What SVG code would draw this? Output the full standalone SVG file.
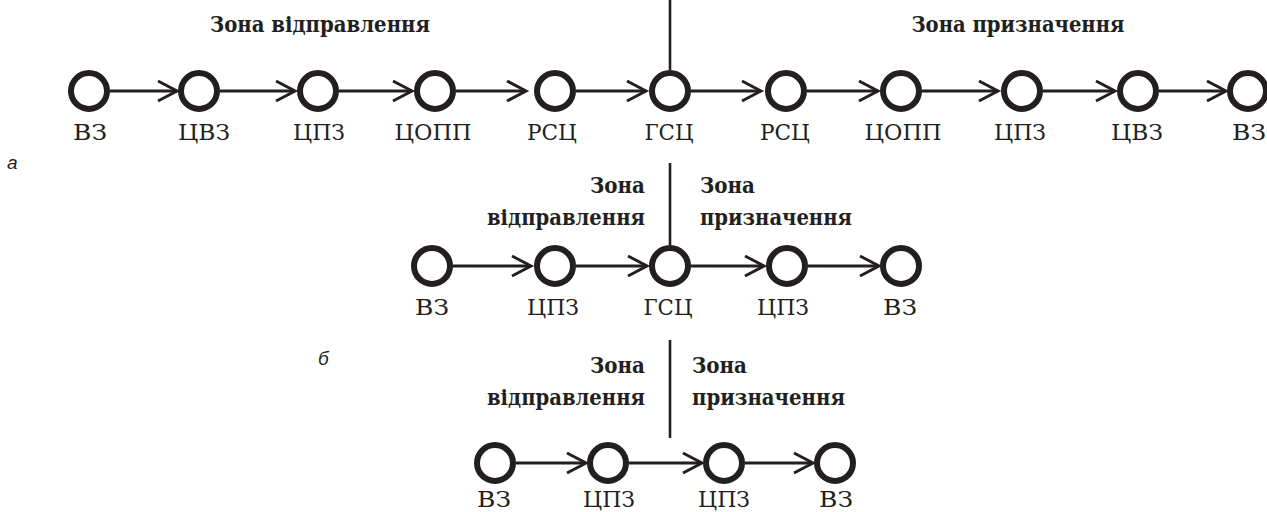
<svg xmlns="http://www.w3.org/2000/svg" width="1267" height="512" viewBox="0 0 1267 512">
<style>
  .n { fill: none; stroke: #231f20; stroke-width: 6; }
  .e { stroke: #231f20; stroke-width: 3; fill: none; }
  .d { stroke: #231f20; stroke-width: 2.6; }
  .lbl { font-family: "DejaVu Serif", "Liberation Serif", serif; font-size: 23px; fill: #231f20; text-anchor: middle; }
  .hd { font-family: "DejaVu Serif", "Liberation Serif", serif; font-size: 22.5px; font-weight: bold; fill: #231f20; }
  .tag { font-family: "Liberation Sans", "DejaVu Sans", sans-serif; font-style: italic; font-size: 19px; fill: #231f20; }
</style>
<defs>
  <marker id="arr" markerUnits="userSpaceOnUse" markerWidth="26" markerHeight="26" viewBox="-22 -13 26 26" refX="0" refY="0" orient="auto">
    <path d="M-19,-10 L0,0 L-19,10" fill="none" stroke="#231f20" stroke-width="3" stroke-linejoin="miter" stroke-miterlimit="10"/>
  </marker>
</defs>

<g id="dividers">
  <line class="d" x1="670" y1="0" x2="670" y2="70"/>
  <line class="d" x1="670" y1="163" x2="670" y2="245"/>
  <line class="d" x1="670" y1="340" x2="670" y2="438"/>
</g>

<g id="headers">
  <text class="hd" x="320" y="32" text-anchor="middle" textLength="220" lengthAdjust="spacingAndGlyphs">Зона відправлення</text>
  <text class="hd" x="1018" y="32" text-anchor="middle" textLength="213" lengthAdjust="spacingAndGlyphs">Зона призначення</text>
  <text class="hd" x="645" y="193" text-anchor="end" textLength="55" lengthAdjust="spacingAndGlyphs">Зона</text>
  <text class="hd" x="645" y="225" text-anchor="end" textLength="158" lengthAdjust="spacingAndGlyphs">відправлення</text>
  <text class="hd" x="700" y="193" textLength="55" lengthAdjust="spacingAndGlyphs">Зона</text>
  <text class="hd" x="700" y="225" textLength="152" lengthAdjust="spacingAndGlyphs">призначення</text>
  <text class="hd" x="645" y="373" text-anchor="end" textLength="55" lengthAdjust="spacingAndGlyphs">Зона</text>
  <text class="hd" x="645" y="405" text-anchor="end" textLength="158" lengthAdjust="spacingAndGlyphs">відправлення</text>
  <text class="hd" x="692" y="373" textLength="55" lengthAdjust="spacingAndGlyphs">Зона</text>
  <text class="hd" x="692" y="405" textLength="153" lengthAdjust="spacingAndGlyphs">призначення</text>
</g>

<g id="tags">
  <text class="tag" x="7" y="169">а</text>
  <text class="tag" x="318" y="365">б</text>
</g>

<g id="connectors">
  <line class="e" x1="110" y1="91" x2="177" y2="91" marker-end="url(#arr)"/>
  <line class="e" x1="220" y1="91" x2="295" y2="91" marker-end="url(#arr)"/>
  <line class="e" x1="339" y1="91" x2="412" y2="91" marker-end="url(#arr)"/>
  <line class="e" x1="456" y1="91" x2="526" y2="91" marker-end="url(#arr)"/>
  <line class="e" x1="576" y1="91" x2="646" y2="91" marker-end="url(#arr)"/>
  <line class="e" x1="691" y1="91" x2="761" y2="91" marker-end="url(#arr)"/>
  <line class="e" x1="807" y1="91" x2="878" y2="91" marker-end="url(#arr)"/>
  <line class="e" x1="922" y1="91" x2="998" y2="91" marker-end="url(#arr)"/>
  <line class="e" x1="1043" y1="91" x2="1115" y2="91" marker-end="url(#arr)"/>
  <line class="e" x1="1159" y1="91" x2="1226" y2="91" marker-end="url(#arr)"/>

  <line class="e" x1="453" y1="266" x2="531" y2="266" marker-end="url(#arr)"/>
  <line class="e" x1="576" y1="266" x2="647" y2="266" marker-end="url(#arr)"/>
  <line class="e" x1="691" y1="266" x2="764" y2="266" marker-end="url(#arr)"/>
  <line class="e" x1="808" y1="266" x2="879" y2="266" marker-end="url(#arr)"/>

  <line class="e" x1="516" y1="463" x2="586" y2="463" marker-end="url(#arr)"/>
  <line class="e" x1="629" y1="463" x2="702" y2="463" marker-end="url(#arr)"/>
  <line class="e" x1="745" y1="463" x2="813" y2="463" marker-end="url(#arr)"/>
</g>

<g id="a1"><circle class="n" cx="89" cy="91" r="18"/><text class="lbl" x="90" y="140" textLength="34" lengthAdjust="spacingAndGlyphs">ВЗ</text></g>
<g id="a2"><circle class="n" cx="199" cy="91" r="18"/><text class="lbl" x="204" y="140" textLength="52" lengthAdjust="spacingAndGlyphs">ЦВЗ</text></g>
<g id="a3"><circle class="n" cx="318" cy="91" r="18"/><text class="lbl" x="319" y="140" textLength="52" lengthAdjust="spacingAndGlyphs">ЦПЗ</text></g>
<g id="a4"><circle class="n" cx="435" cy="91" r="18"/><text class="lbl" x="433" y="140" textLength="77" lengthAdjust="spacingAndGlyphs">ЦОПП</text></g>
<g id="a5"><circle class="n" cx="555" cy="91" r="18"/><text class="lbl" x="552" y="140" textLength="50" lengthAdjust="spacingAndGlyphs">РСЦ</text></g>
<g id="a6"><circle class="n" cx="670" cy="91" r="18"/><text class="lbl" x="669" y="140" textLength="49" lengthAdjust="spacingAndGlyphs">ГСЦ</text></g>
<g id="a7"><circle class="n" cx="786" cy="91" r="18"/><text class="lbl" x="785" y="140" textLength="50" lengthAdjust="spacingAndGlyphs">РСЦ</text></g>
<g id="a8"><circle class="n" cx="901" cy="91" r="18"/><text class="lbl" x="903" y="140" textLength="77" lengthAdjust="spacingAndGlyphs">ЦОПП</text></g>
<g id="a9"><circle class="n" cx="1022" cy="91" r="18"/><text class="lbl" x="1020" y="140" textLength="52" lengthAdjust="spacingAndGlyphs">ЦПЗ</text></g>
<g id="a10"><circle class="n" cx="1138" cy="91" r="18"/><text class="lbl" x="1137" y="140" textLength="52" lengthAdjust="spacingAndGlyphs">ЦВЗ</text></g>
<g id="a11"><circle class="n" cx="1248" cy="91" r="18"/><text class="lbl" x="1249" y="140" textLength="34" lengthAdjust="spacingAndGlyphs">ВЗ</text></g>

<g id="b1"><circle class="n" cx="432" cy="266" r="18"/><text class="lbl" x="432" y="315" textLength="34" lengthAdjust="spacingAndGlyphs">ВЗ</text></g>
<g id="b2"><circle class="n" cx="555" cy="266" r="18"/><text class="lbl" x="553" y="315" textLength="52" lengthAdjust="spacingAndGlyphs">ЦПЗ</text></g>
<g id="b3"><circle class="n" cx="670" cy="266" r="18"/><text class="lbl" x="668" y="315" textLength="49" lengthAdjust="spacingAndGlyphs">ГСЦ</text></g>
<g id="b4"><circle class="n" cx="787" cy="266" r="18"/><text class="lbl" x="783" y="315" textLength="52" lengthAdjust="spacingAndGlyphs">ЦПЗ</text></g>
<g id="b5"><circle class="n" cx="901" cy="266" r="18"/><text class="lbl" x="900" y="315" textLength="34" lengthAdjust="spacingAndGlyphs">ВЗ</text></g>

<g id="c1"><circle class="n" cx="495" cy="463" r="18"/><text class="lbl" x="494" y="507" textLength="34" lengthAdjust="spacingAndGlyphs">ВЗ</text></g>
<g id="c2"><circle class="n" cx="608" cy="463" r="18"/><text class="lbl" x="609" y="507" textLength="52" lengthAdjust="spacingAndGlyphs">ЦПЗ</text></g>
<g id="c3"><circle class="n" cx="724" cy="463" r="18"/><text class="lbl" x="724" y="507" textLength="52" lengthAdjust="spacingAndGlyphs">ЦПЗ</text></g>
<g id="c4"><circle class="n" cx="835" cy="463" r="18"/><text class="lbl" x="836" y="507" textLength="34" lengthAdjust="spacingAndGlyphs">ВЗ</text></g>
</svg>
